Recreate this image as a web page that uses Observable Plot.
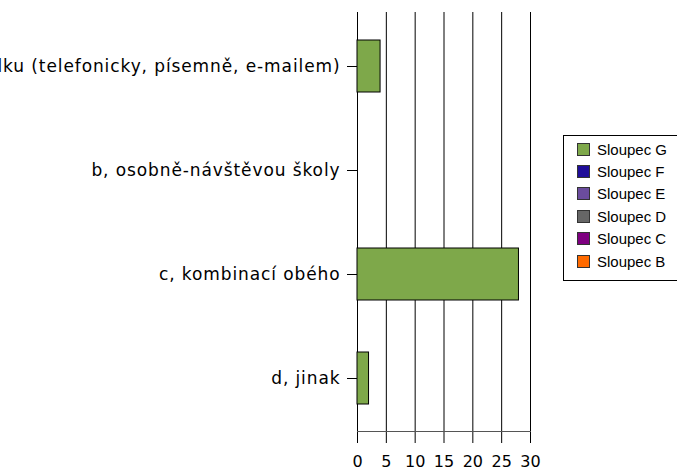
<!DOCTYPE html>
<html><head><meta charset="utf-8">
<script src="https://cdn.jsdelivr.net/npm/d3@7"></script>
<script src="https://cdn.jsdelivr.net/npm/@observablehq/plot@0.6"></script>
<style>
body{margin:0;background:#fff;}
#wrap{position:relative;width:677px;height:470px;overflow:hidden;}
#legend{position:absolute;left:563px;top:135px;width:130px;height:146px;border:1px solid #000;box-sizing:border-box;font-family:"Liberation Sans",Arial,sans-serif;font-size:15px;padding-top:2px;}
.it{display:flex;align-items:center;height:22.4px;}
.sw{width:11px;height:11px;border:1px solid #333;margin-left:13px;margin-right:7px;}
g[aria-label="y-axis tick label"]{font-size:17px;letter-spacing:0.9px;}
g[aria-label="x-axis tick label"]{font-size:16px;}
</style></head>
<body><div id="wrap"><div id="legend"></div></div>
<script>
const categories = ["a, na dálku (telefonicky, písemně, e-mailem)", "b, osobně-návštěvou školy", "c, kombinací obého", "d, jinak"];
const valuesG = [4, 0, 28, 2];
const xTicks = [0, 5, 10, 15, 20, 25, 30];
const seriesNames = ["Sloupec G", "Sloupec F", "Sloupec E", "Sloupec D", "Sloupec C", "Sloupec B"];
const seriesColors = ["#7ea84a", "#1f0d99", "#6b4c9e", "#666666", "#7e0080", "#ff6a00"];

const data = categories.map((c, i) => ({cat: c, v: valuesG[i]}));

const chart = Plot.plot({
  width: 677, height: 470,
  marginLeft: 357, marginRight: 147, marginTop: 12, marginBottom: 39,
  style: {fontFamily: "DejaVu Sans", fontSize: "16px", background: "transparent", overflow: "visible"},
  x: {domain: [0, 30], ticks: xTicks, tickSize: 12, tickPadding: 12, label: null},
  y: {domain: categories, paddingInner: 0.5, paddingOuter: 0.25, tickSize: 10, tickPadding: 7, label: null, align: 0.5},
  marks: [
    Plot.ruleX(xTicks, {stroke: "#000", strokeWidth: 1}),
    Plot.frame({anchor: "bottom", stroke: "#555", strokeWidth: 1}),
    Plot.barX(data.filter(d => d.v > 0), {x: "v", y: "cat", fill: seriesColors[0], stroke: "#000", strokeWidth: 1})
  ]
});
chart.style.position = "absolute";
chart.style.left = "0px";
chart.style.top = "0px";
document.getElementById("wrap").prepend(chart);

const lg = document.getElementById("legend");
seriesNames.forEach((n, i) => {
  const d = document.createElement("div"); d.className = "it";
  const s = document.createElement("div"); s.className = "sw"; s.style.background = seriesColors[i];
  const t = document.createElement("span"); t.textContent = n;
  d.append(s, t); lg.append(d);
});
</script></body></html>
